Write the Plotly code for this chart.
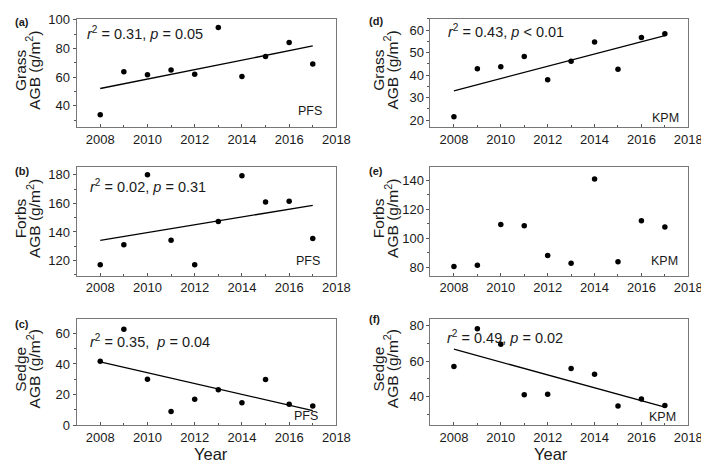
import numpy as np
import plotly.graph_objects as go

W, H = 709, 463

years = [2008, 2009, 2010, 2011, 2012, 2013, 2014, 2015, 2016, 2017]

pfs_grass = [33.7, 63.8, 61.7, 64.9, 62.0, 94.6, 60.4, 74.4, 84.2, 69.2]
pfs_forbs = [117.1, 131.1, 180.0, 134.2, 117.1, 147.4, 179.3, 161.0, 161.4, 135.4]
pfs_sedge = [41.8, 62.7, 30.0, 8.9, 16.9, 23.2, 14.6, 29.8, 13.7, 12.5]
kpm_grass = [21.6, 42.9, 43.7, 48.3, 38.0, 46.2, 54.7, 42.6, 56.7, 58.4]
kpm_forbs = [80.5, 81.3, 109.4, 108.5, 88.1, 82.7, 140.9, 83.8, 112.1, 107.8]
kpm_sedge = [57.0, 78.2, 69.5, 41.1, 41.4, 55.9, 52.7, 34.8, 38.7, 35.1]

panel_labels = ["(a)", "(b)", "(c)", "(d)", "(e)", "(f)"]
group_names = ["Grass", "Forbs", "Sedge", "Grass", "Forbs", "Sedge"]
site_names = ["PFS", "PFS", "PFS", "KPM", "KPM", "KPM"]
stats_text = [
    "<i>r</i><sup>2</sup> = 0.31, <i>p</i> = 0.05",
    "<i>r</i><sup>2</sup> = 0.02, <i>p</i> = 0.31",
    "<i>r</i><sup>2</sup> = 0.35,  <i>p</i> = 0.04",
    "<i>r</i><sup>2</sup> = 0.43, <i>p</i> &lt; 0.01",
    None,
    "<i>r</i><sup>2</sup> = 0.49, <i>p</i> = 0.02",
]
series = [pfs_grass, pfs_forbs, pfs_sedge, kpm_grass, kpm_forbs, kpm_sedge]
fit_line = [True, True, True, True, False, True]

y_ranges = [[24.8, 100.7], [109.4, 185.2], [0, 69.7], [16.8, 65], [74, 149], [24, 84]]
y_dticks = [20, 20, 20, 10, 20, 20]

# pixel layout
col_x = [(70, 335), (431, 694)]
row_y = [(5, 117), (158, 270), (314, 424)]

def px(x):
    return x / W

def py(y):
    return 1 - y / H

FONT = "Arial, Liberation Sans, sans-serif"
fig = go.Figure()
layout = dict(width=W, height=H, margin=dict(l=0, r=0, t=0, b=0), autosize=False,
              paper_bgcolor="white", plot_bgcolor="white", showlegend=False,
              font=dict(family=FONT, color="#1a1a1a"))
annotations = []

for i in range(6):
    col = i // 3
    row = i % 3
    n = i + 1
    xa = "xaxis" if n == 1 else f"xaxis{n}"
    ya = "yaxis" if n == 1 else f"yaxis{n}"
    xr = "x" if n == 1 else f"x{n}"
    yr = "y" if n == 1 else f"y{n}"
    x0, x1 = col_x[col]
    t0, t1 = row_y[row]
    layout[xa] = dict(domain=[px(x0), px(x1)], anchor=yr, range=[2007, 2018],
                      tick0=2008, dtick=2, ticks="inside", ticklen=3, tickwidth=1,
                      tickcolor="#555", showline=True, linecolor="#777", linewidth=1,
                      mirror=True, showgrid=False, zeroline=False,
                      ticklabeloverflow="allow",
                      tickfont=dict(size=13, family=FONT, color="#1a1a1a"),
                      minor=dict(dtick=1, ticks="inside", ticklen=2, tickcolor="#555"))
    layout[ya] = dict(domain=[py(t1), py(t0)], anchor=xr, range=y_ranges[i],
                      dtick=y_dticks[i], ticks="outside", ticklen=3, tickwidth=1,
                      tickcolor="#555", showline=True, linecolor="#777", linewidth=1,
                      mirror=True, showgrid=False, zeroline=False,
                      ticklabeloverflow="allow",
                      tickfont=dict(size=13, family=FONT, color="#1a1a1a"),
                      minor=dict(dtick=y_dticks[i] / 2, ticks="outside", ticklen=2, tickcolor="#555"))
    yv = series[i]
    fig.add_trace(go.Scatter(x=years, y=yv, mode="markers", xaxis=xr, yaxis=yr,
                             marker=dict(color="black", size=5.5)))
    if fit_line[i]:
        k, b = np.polyfit(years, yv, 1)
        xs = [years[0], years[-1]]
        fig.add_trace(go.Scatter(x=xs, y=[k * xs[0] + b, k * xs[1] + b], mode="lines",
                                 xaxis=xr, yaxis=yr, line=dict(color="black", width=1.3)))
    # y-title lines
    yc = (t0 + t1) / 2 - 3
    tx1 = 13 if col == 0 else 378
    tx2 = 26 if col == 0 else 391
    annotations.append(dict(x=px(tx1), y=py(yc), xref="paper", yref="paper", text=group_names[i],
                            textangle=-90, showarrow=False, font=dict(size=15.5, family=FONT, color="#1a1a1a"),
                            xanchor="center", yanchor="middle"))
    annotations.append(dict(x=px(tx2), y=py(yc), xref="paper", yref="paper",
                            text="AGB (g/m<sup>2</sup>)", textangle=-90, showarrow=False,
                            font=dict(size=15.5, family=FONT, color="#1a1a1a"),
                            xanchor="center", yanchor="middle"))
    # panel label
    lx = 5 if col == 0 else 366
    ly = [8, 162, 320][row] if col == 0 else [7, 162, 315][row]
    annotations.append(dict(x=px(lx), y=py(ly), xref="paper", yref="paper", text="<b>" + panel_labels[i] + "</b>",
                            showarrow=False, font=dict(size=11, family=FONT, color="#1a1a1a"),
                            xanchor="left", yanchor="middle"))
    # site label
    sx = [322, 320, 318, 687, 686, 684][i]
    sy = [100, 255, 415, 107, 255, 416][i]
    annotations.append(dict(x=px(sx), y=py(sy), xref="paper", yref="paper", text=site_names[i],
                            showarrow=False, font=dict(size=12.5, family=FONT, color="#1a1a1a"),
                            xanchor="right", yanchor="middle"))
    # stats
    if stats_text[i]:
        stx = [79, 82, 82, 447, 0, 446][i]
        sty = [20, 177, 337, 18, 0, 333][i]
        annotations.append(dict(x=px(stx), y=py(sty), xref="paper", yref="paper", text=stats_text[i],
                                showarrow=False, font=dict(size=14.5, family=FONT, color="#1a1a1a"),
                                xanchor="left", yanchor="middle"))

# Year labels
for xc in [207, 554]:
    annotations.append(dict(x=px(xc), y=py(454), xref="paper", yref="paper", text="Year",
                            showarrow=False, font=dict(size=16.5, family=FONT, color="#1a1a1a"),
                            xanchor="center", yanchor="middle"))

layout["annotations"] = annotations
fig.update_layout(**layout)
fig.write_html("out.html")
